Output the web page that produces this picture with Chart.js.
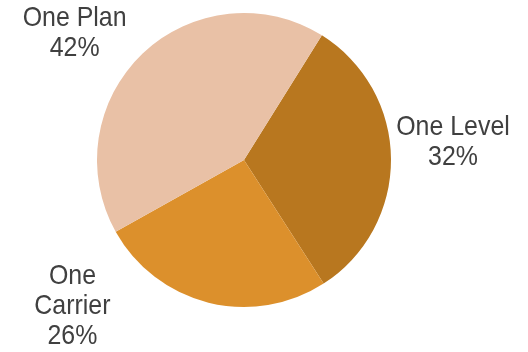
<!DOCTYPE html>
<html>
<head>
<meta charset="utf-8">
<script src="https://cdn.jsdelivr.net/npm/chart.js@4/dist/chart.umd.min.js"></script>
<style>
  html, body { margin: 0; padding: 0; background: #ffffff; }
  #wrap { width: 528px; height: 352px; position: relative; }
</style>
</head>
<body>
<div id="wrap"><canvas id="chart" width="528" height="352"></canvas></div>
<script>
// Share of each plan type (percent)
const categories = ['One Level', 'One Carrier', 'One Plan'];
const shares = [32, 26, 42];
const sliceColors = ['#B8771F', '#DC902C', '#E9C1A6'];

// Label placement relative to the outer edge of each slice at its mid-angle
const labelLines = [['One Level', '32%'], ['One', 'Carrier', '26%'], ['One Plan', '42%']];
const labelShift = [[62, -17], [-136, 4], [-68, -20]];

const FONT = '28px "Liberation Sans", Arial, sans-serif';
const LINE_H = 30;
const CONDENSE = 0.89; // slightly condensed label face

const outsideLabels = {
  id: 'outsideLabels',
  afterDatasetsDraw(chart) {
    const ctx = chart.ctx;
    const meta = chart.getDatasetMeta(0);
    ctx.save();
    ctx.font = FONT;
    ctx.fillStyle = '#404040';
    ctx.textAlign = 'center';
    ctx.textBaseline = 'middle';
    meta.data.forEach((arc, i) => {
      const mid = (arc.startAngle + arc.endAngle) / 2;
      const ex = arc.x + Math.cos(mid) * arc.outerRadius;
      const ey = arc.y + Math.sin(mid) * arc.outerRadius;
      const cx = ex + labelShift[i][0];
      const cy = ey + labelShift[i][1];
      const lines = labelLines[i];
      const top = cy - (lines.length - 1) * LINE_H / 2;
      lines.forEach((t, k) => {
        ctx.save();
        ctx.translate(cx, top + k * LINE_H);
        ctx.scale(CONDENSE, 1);
        ctx.fillText(t, 0, 0);
        ctx.restore();
      });
    });
    ctx.restore();
  }
};

new Chart(document.getElementById('chart'), {
  type: 'pie',
  data: {
    labels: categories,
    datasets: [{
      data: shares,
      backgroundColor: sliceColors,
      borderWidth: 0
    }]
  },
  options: {
    responsive: false,
    animation: false,
    rotation: 32,
    layout: { padding: { top: 13, bottom: 45, left: 97, right: 137 } },
    plugins: {
      legend: { display: false },
      tooltip: { enabled: false }
    }
  },
  plugins: [outsideLabels]
});
</script>
</body>
</html>
